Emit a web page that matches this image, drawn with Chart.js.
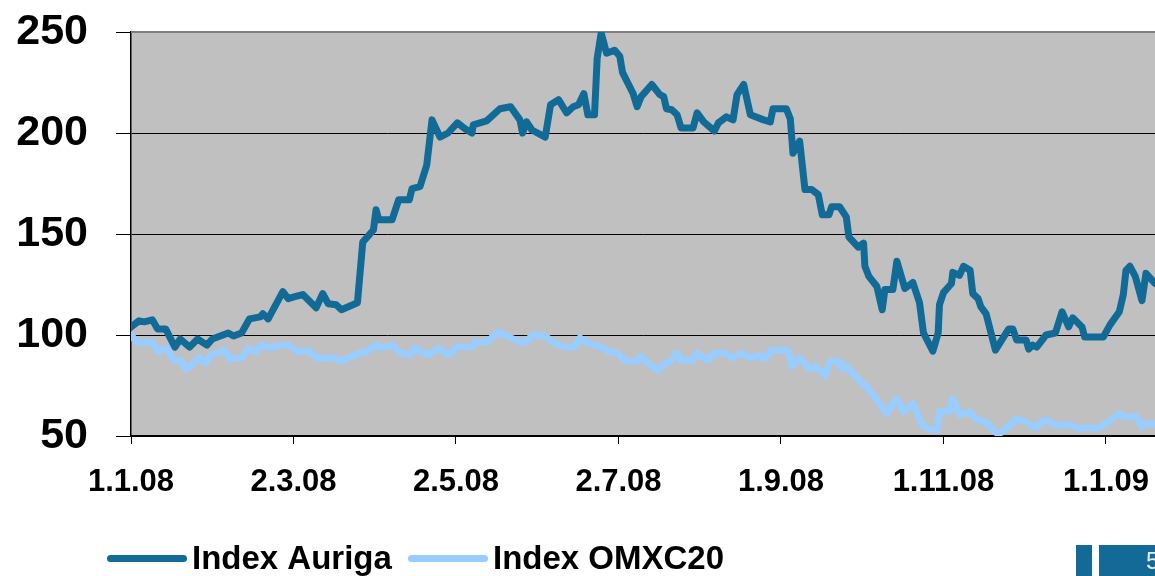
<!DOCTYPE html>
<html>
<head>
<meta charset="utf-8">
<script src="https://cdn.jsdelivr.net/npm/chart.js@4.4.1/dist/chart.umd.min.js"></script>
<style>
  html, body { margin: 0; padding: 0; background: #fff; overflow: hidden; }
  #wrap { width: 1155px; height: 576px; }
</style>
</head>
<body>
<div id="wrap"><canvas id="grafico" width="1155" height="576"></canvas></div>
<script>
// Datos (dias desde 1.1.08 y valor del indice)
const aurigaDias = [0, 3, 5, 8, 10, 13, 16.5, 18.5, 22, 25, 28.5, 30.5, 36.5, 38.5, 41.5, 44.5, 48.5, 49.5, 51.5, 57, 59, 61.5, 64.5, 69.5, 72, 74, 77, 79, 85, 87, 91, 92, 93, 98, 100.5, 104.5, 105.5, 108.5, 111, 113, 116, 119, 122.5, 125.5, 128, 128.5, 133.5, 138.5, 142.5, 146, 147, 148.5, 150.5, 155.5, 157.5, 160.5, 163.5, 166, 168, 170, 171.5, 174, 175, 176.5, 178.5, 181.5, 183.5, 184.5, 188.5, 190, 191.5, 195.5, 198.5, 200, 201, 203, 205, 206.5, 211, 212.5, 215, 219, 220.5, 223.5, 226, 227.5, 230, 232.5, 237.5, 240, 241, 246, 247.5, 248.5, 251, 253, 255.5, 258, 259.5, 262, 263, 266, 268.5, 269.5, 273, 275, 275.5, 277, 280, 282, 283, 286, 287.5, 290.5, 293.5, 296, 297.5, 301, 303, 303.5, 305, 308, 308.5, 311, 312.5, 315, 316, 318, 319, 321, 324.5, 329.5, 331, 332.5, 336, 337, 338.5, 340, 343.5, 347, 349.5, 352, 353.5, 357, 358, 365, 367.5, 371, 372.5, 373.5, 375, 377, 379.5, 381, 384.4];
const aurigaValores = [104, 107, 106.5, 107.5, 103, 103, 94, 98, 94, 98, 95, 98, 101, 99.5, 101, 108, 109, 110.5, 108, 121.5, 118, 119, 120, 113.5, 120.5, 115.5, 115, 112.5, 116, 146, 152, 162, 157, 157, 167, 167, 172.5, 173.5, 184, 206.5, 198, 200, 205, 202, 200, 204, 206, 212, 213, 206.5, 200, 205.5, 201.5, 198, 214, 216.5, 210, 213, 214, 219.5, 209, 209, 237, 249.5, 239.5, 241, 238, 230, 219.5, 213, 218, 224, 219, 218, 212, 211.5, 209, 202.5, 202.5, 210, 205.5, 201, 205, 208, 206.5, 219, 224, 209, 206.5, 205.5, 212, 212, 207, 190, 196, 172, 172, 169.5, 159.5, 159.5, 163.5, 163.5, 158.5, 148.5, 143.5, 145.5, 134, 129, 124, 112.5, 122.5, 122.5, 136.5, 123, 126, 116, 101, 92, 101, 115, 121, 125.5, 131, 129.5, 134, 132, 120.5, 118, 114, 110.5, 92.5, 103, 103, 97.5, 97.5, 93, 95, 94, 100, 101, 111.5, 104, 108.5, 104, 99, 99, 105, 111.5, 120, 132, 134, 129, 117, 130.5, 125.5];

const omxDias = [0, 2.5, 8, 10, 13.5, 16, 18.5, 20.5, 23.5, 25.5, 28, 30, 35, 37, 41.5, 44, 46.5, 49, 52, 56, 59, 63, 66, 70, 76.5, 79, 85.5, 88, 92, 94, 98, 101.5, 104.5, 106.5, 111.5, 115.5, 119, 122.5, 128, 129, 133.5, 138, 142.5, 147.5, 151, 156, 158, 162.5, 166.5, 168.5, 171.5, 176.5, 180, 182.5, 186, 190, 191.5, 194, 198, 200.5, 203, 205, 206.5, 211, 212.5, 216.5, 219, 223.5, 226, 229, 232.5, 235.5, 238, 240.5, 246, 247, 248, 251, 255, 257, 260.5, 262.5, 266, 267, 268.5, 274.5, 276, 282, 283.5, 287.5, 290, 293.5, 297, 298.5, 302.5, 303.5, 307, 308.5, 311, 315, 317, 322, 323.5, 325.5, 327, 332.5, 336, 339.5, 343, 347, 352.5, 355, 363.5, 367, 371, 373.5, 377.5, 379.5, 381, 384.4];
const omxValores = [100, 96, 96.5, 92, 93.5, 87.5, 87.5, 83, 86, 89, 86, 90, 92.5, 88.5, 88.5, 93.5, 91.5, 95, 93.5, 95, 95, 91.5, 92.5, 88.5, 88.5, 87, 91, 91.5, 95, 93.5, 95, 91, 90, 93.5, 90, 93.5, 90, 94, 94, 96.5, 96.5, 101.5, 98.5, 96, 100, 99, 96.5, 94, 94, 98.5, 96, 94, 91.5, 91, 87, 87, 89.5, 86, 82.5, 86, 87.5, 91, 87.5, 87.5, 91, 87.5, 91, 91, 88.5, 91, 88.5, 90, 88.5, 92.5, 92.5, 91.5, 84.5, 88.5, 83, 84.5, 80, 87, 87, 83, 84.5, 76, 74.5, 64.5, 61, 68.5, 62, 66, 55.5, 54, 53, 62, 62, 68.5, 60.5, 62, 58.5, 56, 53, 51, 52, 58.5, 57, 54, 58, 55.5, 55.5, 54, 54, 57, 61, 59.5, 59.5, 54.5, 56, 56];

// Etiquetas del eje X
const tickDias = [0, 61, 122, 183, 244, 305, 366];
const tickEtiquetas = ["1.1.08", "2.3.08", "2.5.08", "2.7.08", "1.9.08", "1.11.08", "1.1.09"];

const nombres = ["Index Auriga", "Index OMXC20"];
const colores = ["#126A97", "#99CCFF"];

const fuente = "'Liberation Sans', Arial, sans-serif";

// Fondo gris del area del grafico y borde superior
const fondoPlugin = {
  id: "fondo",
  beforeDraw(chart) {
    const { ctx, chartArea: a } = chart;
    ctx.save();
    ctx.fillStyle = "#C0C0C0";
    ctx.fillRect(a.left, a.top, a.right - a.left, a.bottom - a.top);
    ctx.restore();
  },
  beforeDatasetsDraw(chart) {
    const { ctx, chartArea: a } = chart;
    ctx.save();
    ctx.strokeStyle = "#808080";
    ctx.lineWidth = 2;
    ctx.beginPath();
    ctx.moveTo(a.left, a.top);
    ctx.lineTo(a.right, a.top);
    ctx.stroke();
    ctx.restore();
  }
};

// Leyenda abajo y numero de pagina
const leyendaPlugin = {
  id: "leyenda",
  afterDraw(chart) {
    const ctx = chart.ctx;
    const xs = [107, 408];
    const y = 558.5;
    ctx.save();
    chart.data.datasets.forEach((ds, i) => {
      ctx.strokeStyle = ds.borderColor;
      ctx.lineWidth = 7;
      ctx.lineCap = "round";
      ctx.beginPath();
      ctx.moveTo(xs[i] + 3.5, y);
      ctx.lineTo(xs[i] + 76.5, y);
      ctx.stroke();
      ctx.fillStyle = "#000";
      ctx.font = "bold 33px " + fuente;
      ctx.textBaseline = "middle";
      ctx.textAlign = "left";
      ctx.fillText(ds.label, xs[i] + 85, y + 1);
    });
    // recuadro de pagina
    ctx.fillStyle = "#136A96";
    ctx.fillRect(1076, 545, 16, 31);
    ctx.fillRect(1099, 545, 56, 31);
    ctx.fillStyle = "#E8E8E8";
    ctx.font = "24px " + fuente;
    ctx.textBaseline = "middle";
    ctx.fillText("5", 1146, 562);
    ctx.restore();
  }
};

const ctx = document.getElementById("grafico");

new Chart(ctx, {
  type: "line",
  data: {
    datasets: [
      {
        label: nombres[0],
        data: aurigaDias.map((d, i) => ({ x: d, y: aurigaValores[i] })),
        borderColor: colores[0],
        borderWidth: 7,
        pointRadius: 0,
        tension: 0,
        borderJoinStyle: "round",
        borderCapStyle: "round",
        clip: 0
      },
      {
        label: nombres[1],
        data: omxDias.map((d, i) => ({ x: d, y: omxValores[i] })),
        borderColor: colores[1],
        borderWidth: 7,
        pointRadius: 0,
        tension: 0,
        borderJoinStyle: "round",
        borderCapStyle: "round",
        clip: 0
      }
    ]
  },
  options: {
    responsive: false,
    animation: false,
    layout: { padding: { top: 32, right: 0, bottom: 60, left: 0 } },
    plugins: {
      legend: { display: false },
      tooltip: { enabled: false }
    },
    scales: {
      x: {
        type: "linear",
        min: 0,
        max: 384.4,
        afterFit(scale) {
          scale.height = 80;
          scale.paddingLeft = 0;
          scale.paddingRight = 0;
        },
        afterBuildTicks(scale) {
          scale.ticks = tickDias.map((v) => ({ value: v }));
        },
        grid: { drawOnChartArea: false, color: "#000", tickLength: 8 },
        border: { color: "#000", width: 2 },
        ticks: {
          autoSkip: false,
          maxRotation: 0,
          padding: 20,
          color: "#000",
          font: { family: fuente, size: 31, weight: "bold" },
          callback: (v) => tickEtiquetas[tickDias.indexOf(v)]
        }
      },
      y: {
        min: 50,
        max: 250,
        afterFit(scale) {
          scale.width = 131;
          scale.paddingTop = 0;
          scale.paddingBottom = 0;
        },
        grid: { color: "#000", lineWidth: 1, tickLength: 15 },
        border: { color: "#000", width: 1.5 },
        ticks: {
          stepSize: 50,
          padding: 28,
          color: "#000",
          font: { family: fuente, size: 43, weight: "bold" }
        }
      }
    }
  },
  plugins: [fondoPlugin, leyendaPlugin]
});
</script>
</body>
</html>
